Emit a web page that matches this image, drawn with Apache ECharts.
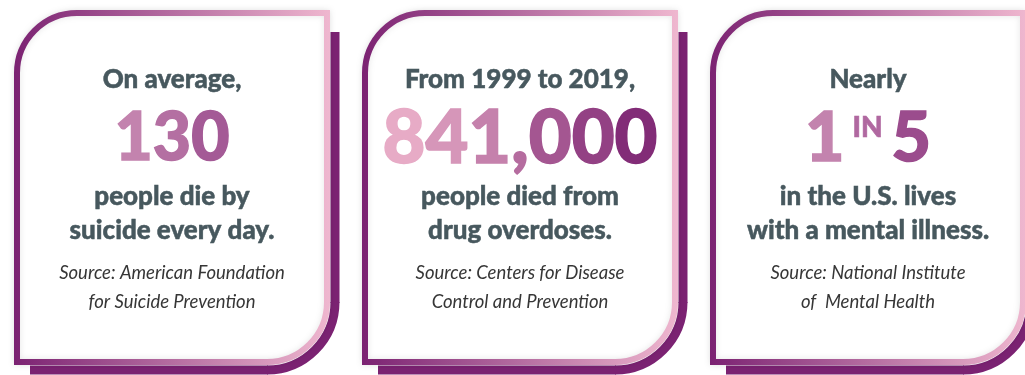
<!DOCTYPE html>
<html>
<head>
<meta charset="utf-8">
<script src="https://cdn.jsdelivr.net/npm/echarts@6/dist/echarts.min.js"></script>
<style>
html, body {margin:0; padding:0; background:#fff;}
#container {width:1025px; height:375px;}
</style>
</head>
<body>
<div id="container"></div>
<script type="text/javascript">
	// card texts
	var leadIns = ['On average,', 'From 1999 to 2019,', 'Nearly'];
	var figureParts = [['130'], ['841,000'], ['1', 'IN', '5']];
	var descLines = [
		['people die by', 'suicide every day.'],
		['people died from', 'drug overdoses.'],
		['in the U.S. lives', 'with a mental illness.']
	];
	var sourceLines = [
		['Source: American Foundation', 'for Suicide Prevention'],
		['Source: Centers for Disease', 'Control and Prevention'],
		['Source: National Institute', 'of  Mental Health']
	];

	var PURPLE = '#7b2272';
	var PINK = '#efb7cf';
	var BODY = '#47585e';
	var figureColors = [['#cb8db4', '#9c5090'], ['#efb6cd', '#7a2170'], ['#c383ae', '#9b4c8d']];
	var figureSize = [66, 74, 68];

	var cardX0 = 17, cardStep = 348, cardY = 13, cardW = 310, cardH = 349, R = 60;

	function grad(c1, c2) {
		return {
			type: 'linear', x: 0, y: 0, x2: 1, y2: 0,
			colorStops: [{offset: 0, color: c1}, {offset: 1, color: c2}]
		};
	}
	function hex2rgb(h) {
		return [parseInt(h.substr(1, 2), 16), parseInt(h.substr(3, 2), 16), parseInt(h.substr(5, 2), 16)];
	}
	function mix(c1, c2, t) {
		var a = hex2rgb(c1), b = hex2rgb(c2);
		return 'rgb(' + a.map(function (v, k) { return Math.round(v + (b[k] - v) * t); }).join(',') + ')';
	}
	// colour each glyph along a left-to-right gradient
	function shadedText(str, c1, c2, font) {
		var rich = {}, out = '';
		for (var k = 0; k < str.length; k++) {
			var t = str.length > 1 ? (k + 0.5) / str.length : 0.5;
			var col = mix(c1, c2, t);
			rich['g' + k] = {fill: col, stroke: col, lineWidth: 1.5, font: font};
			out += '{g' + k + '|' + str[k] + '}';
		}
		return {text: out, rich: rich};
	}

	var elements = [];
	leadIns.forEach(function (lead, i) {
		var x = cardX0 + i * cardStep, y = cardY, w = cardW, h = cardH;
		var cx = x + w / 2;
		var shadowStyle = {fill: null, stroke: PURPLE, lineWidth: 9};
		// offset shadow along right and bottom
		elements.push({
			type: 'line',
			shape: {x1: x + w + 8, y1: y + 19, x2: x + w + 8, y2: y + h - R + 1},
			style: shadowStyle
		});
		elements.push({
			type: 'arc',
			shape: {cx: x + w - R, cy: y + h - R, r: R + 8, startAngle: 0, endAngle: Math.PI / 2, clockwise: true},
			style: shadowStyle
		});
		elements.push({
			type: 'line',
			shape: {x1: x + w - R + 1, y1: y + h + 8, x2: x + 13, y2: y + h + 8},
			style: shadowStyle
		});
		elements.push({
			type: 'rect',
			shape: {x: x, y: y, width: w, height: h, r: [R, 0, R, 0]},
			style: {fill: '#fff', stroke: grad(PURPLE, PINK), lineWidth: 6,
				shadowBlur: 6, shadowColor: 'rgba(0,0,0,0.10)'}
		});
		elements.push({
			type: 'text', x: cx, y: 80,
			style: {text: lead, fill: BODY, stroke: BODY, lineWidth: 0.5,
				font: '900 26px Lato', align: 'center', verticalAlign: 'middle'}
		});
		var parts = figureParts[i];
		var bigFont = '900 ' + figureSize[i] + 'px Lato';
		var figStyle;
		if (parts.length === 1) {
			figStyle = shadedText(parts[0], figureColors[i][0], figureColors[i][1], bigFont);
		} else {
			figStyle = {
				text: '{a|' + parts[0] + '}{b|' + parts[1] + '}{c|' + parts[2] + '}',
				rich: {
					a: {fill: figureColors[i][0], stroke: figureColors[i][0], lineWidth: 1.5, font: bigFont},
					b: {fill: '#b068a0', stroke: '#b068a0', lineWidth: 0.6, font: '900 28px Lato', padding: [0, 9, 22, 8]},
					c: {fill: figureColors[i][1], stroke: figureColors[i][1], lineWidth: 1.5, font: bigFont}
				}
			};
		}
		figStyle.align = 'center';
		figStyle.verticalAlign = 'middle';
		elements.push({type: 'text', x: cx, y: 139, style: figStyle});
		descLines[i].forEach(function (line, k) {
			elements.push({
				type: 'text', x: cx, y: 197 + k * 34,
				style: {text: line, fill: BODY, stroke: BODY, lineWidth: 0.5,
					font: '900 26px Lato', align: 'center', verticalAlign: 'middle'}
			});
		});
		sourceLines[i].forEach(function (line, k) {
			elements.push({
				type: 'text', x: cx, y: 273 + k * 29,
				style: {text: line, fill: '#363636', font: 'italic 18.5px Lato', align: 'center', verticalAlign: 'middle'}
			});
		});
	});

	var myChart = echarts.init(document.getElementById('container'));
	var option = {
		backgroundColor: '#fff',
		animation: false,
		graphic: {elements: elements}
	};
	myChart.setOption(option);
</script>
</body>
</html>
